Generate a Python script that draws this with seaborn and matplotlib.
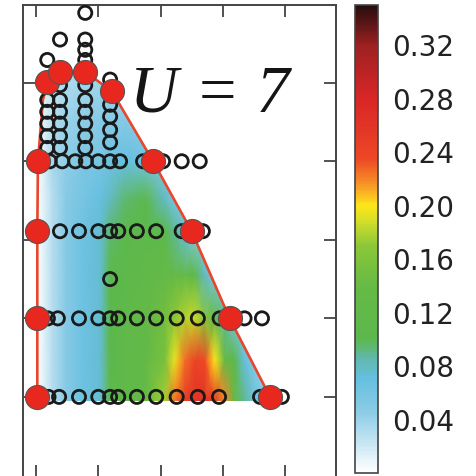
import numpy as np
import matplotlib
matplotlib.use("Agg")
import matplotlib.pyplot as plt
import seaborn as sns
from matplotlib.colors import LinearSegmentedColormap, Normalize
from matplotlib.patches import Polygon

# ---------------- data ----------------
# phase boundary (red line + red markers)
boundary_x = [0.02, 0.02, 0.02, 0.03, 0.11, 0.18, 0.385, 0.79, 1.22, 1.88, 2.50, 3.11, 3.76]
boundary_y = [0.00, 1.00, 2.11, 3.00, 3.78, 4.01, 4.14, 4.14, 3.89, 3.00, 2.11, 1.00, 0.00]
red_pts_x = [0.02, 0.02, 0.02, 0.03, 0.18, 0.385, 0.79, 1.22, 1.88, 2.50, 3.11, 3.76]
red_pts_y = [0.00, 1.00, 2.11, 3.00, 4.01, 4.14, 4.14, 3.89, 3.00, 2.11, 1.00, 0.00]

# open circles (sampled points), rows and columns
row0_x = [0.20, 0.37, 0.69, 1.00, 1.19, 1.32, 1.62, 1.93, 2.26, 2.60, 2.94, 3.60, 3.95]
row1_x = [0.19, 0.35, 0.69, 1.00, 1.19, 1.32, 1.62, 1.93, 2.26, 2.60, 2.95, 3.35, 3.63]
row15_x = [1.19]
row2_x = [0.385, 0.69, 1.00, 1.19, 1.32, 1.62, 1.93, 2.34, 2.68]
row3_x = [0.22, 0.42, 0.63, 0.80, 1.00, 1.19, 1.35, 1.72, 2.04, 2.34, 2.63]
col018_y = [4.29, 3.78, 3.63, 3.48, 3.32, 3.17]
col039_y = [4.55, 3.97, 3.78, 3.63, 3.48, 3.32, 3.17]
col079_y = [4.89, 4.55, 4.42, 4.29, 3.97, 3.78, 3.63, 3.48, 3.32, 3.17]
col119_y = [4.04, 3.72, 3.57, 3.40, 3.24]

# colour field sampled on a grid
field_x = [0.02, 0.26, 0.48, 0.74, 1.03, 1.19, 1.43, 1.75, 2.07, 2.23,
           2.39, 2.55, 2.71, 2.87, 3.03, 3.19, 3.35, 3.52, 3.68, 3.84]
field_y = [-0.05, 0.47, 1.00, 1.55, 2.11, 2.51, 3.00, 3.53, 4.15]
field_z = [
    [0.00, 0.03, 0.05, 0.065, 0.075, 0.11, 0.12, 0.13, 0.175, 0.225, 0.25, 0.26, 0.26, 0.255, 0.22, 0.14, 0.09, 0.065, 0.05, 0.04],
    [0.00, 0.03, 0.05, 0.065, 0.075, 0.105, 0.115, 0.125, 0.155, 0.195, 0.225, 0.24, 0.235, 0.20, 0.14, 0.10, 0.07, 0.05, 0.04, 0.04],
    [0.00, 0.03, 0.05, 0.065, 0.075, 0.10, 0.115, 0.125, 0.15, 0.17, 0.18, 0.185, 0.165, 0.13, 0.09, 0.06, 0.05, 0.04, 0.04, 0.04],
    [0.00, 0.03, 0.05, 0.065, 0.075, 0.10, 0.11, 0.12, 0.13, 0.135, 0.13, 0.11, 0.08, 0.06, 0.05, 0.04, 0.04, 0.04, 0.04, 0.04],
    [0.00, 0.03, 0.05, 0.065, 0.075, 0.095, 0.105, 0.11, 0.105, 0.09, 0.07, 0.05, 0.05, 0.04, 0.04, 0.04, 0.04, 0.04, 0.04, 0.04],
    [0.00, 0.03, 0.05, 0.06, 0.07, 0.08, 0.095, 0.10, 0.08, 0.06, 0.05, 0.05, 0.04, 0.04, 0.04, 0.04, 0.04, 0.04, 0.04, 0.04],
    [0.00, 0.035, 0.045, 0.055, 0.06, 0.065, 0.07, 0.065, 0.05, 0.05, 0.04, 0.04, 0.04, 0.04, 0.04, 0.04, 0.04, 0.04, 0.04, 0.04],
    [0.00, 0.03, 0.04, 0.045, 0.05, 0.05, 0.05, 0.045, 0.04, 0.04, 0.04, 0.04, 0.04, 0.04, 0.04, 0.04, 0.04, 0.04, 0.04, 0.04],
    [0.00, 0.02, 0.03, 0.035, 0.035, 0.035, 0.03, 0.03, 0.03, 0.03, 0.03, 0.03, 0.03, 0.03, 0.03, 0.03, 0.03, 0.03, 0.03, 0.03],
]

cbar_ticks = [0.04, 0.08, 0.12, 0.16, 0.20, 0.24, 0.28, 0.32]
vmin, vmax = 0.0, 0.35
label_text = "U = 7"

# colormap stops (value, colour)
cmap_stops = [
    (0.000, (1.00, 1.00, 1.00)),
    (0.020, (0.80, 0.91, 0.96)),
    (0.045, (0.55, 0.80, 0.90)),
    (0.070, (0.40, 0.75, 0.88)),
    (0.085, (0.38, 0.72, 0.68)),
    (0.100, (0.36, 0.72, 0.30)),
    (0.140, (0.40, 0.73, 0.27)),
    (0.170, (0.55, 0.78, 0.22)),
    (0.190, (0.85, 0.88, 0.15)),
    (0.200, (1.00, 0.90, 0.10)),
    (0.215, (0.97, 0.60, 0.15)),
    (0.235, (0.93, 0.28, 0.15)),
    (0.280, (0.85, 0.15, 0.15)),
    (0.320, (0.62, 0.13, 0.13)),
    (0.350, (0.15, 0.05, 0.05)),
]

# ---------------- plotting ----------------
sns.set_style("white")
plt.rcParams["font.family"] = ["DejaVu Sans"]

cmap = LinearSegmentedColormap.from_list(
    "phase", [((v - vmin) / (vmax - vmin), c) for v, c in cmap_stops])
norm = Normalize(vmin=vmin, vmax=vmax)

W = 476
fig = plt.figure(figsize=(4.76, 4.76), dpi=100)
ax = fig.add_axes([23 / W, 1 - 477 / W, (336 - 23) / W, (477 - 5) / W])
cax = fig.add_axes([355 / W, 1 - 473 / W, 23 / W, (473 - 5) / W])

# field
X, Y = np.meshgrid(field_x, field_y)
mesh = ax.pcolormesh(X, Y, np.array(field_z), shading="gouraud", cmap=cmap,
                     norm=norm, zorder=1)
poly_pts = [(boundary_x[0], -0.05)] + list(zip(boundary_x, boundary_y)) + [(boundary_x[-1], -0.05)]
clip = Polygon(poly_pts, closed=True, transform=ax.transData, facecolor="none", edgecolor="none")
ax.add_patch(clip)
mesh.set_clip_path(clip)

# boundary line
ax.plot(boundary_x, boundary_y, color="#e8472e", lw=1.9, zorder=2)

# open circles
ox = (row0_x + row1_x + row15_x + row2_x + row3_x
      + [0.18] * len(col018_y) + [0.385] * len(col039_y)
      + [0.79] * len(col079_y) + [1.19] * len(col119_y))
oy = ([0.0] * len(row0_x) + [1.0] * len(row1_x) + [1.5] * len(row15_x)
      + [2.11] * len(row2_x) + [3.0] * len(row3_x)
      + col018_y + col039_y + col079_y + col119_y)
sns.scatterplot(x=ox, y=oy, ax=ax, s=90, marker="o", facecolor="none",
                edgecolor="#1a1a1a", linewidth=2.0, zorder=3)

# red boundary markers
sns.scatterplot(x=red_pts_x, y=red_pts_y, ax=ax, s=300, marker="o",
                color="#e8281e", edgecolor="#555555", linewidth=0.8, zorder=4)

ax.text(1.51, 3.63, label_text, fontfamily="Liberation Serif", style="italic",
        fontsize=48, color="#151515", ha="left", va="baseline", zorder=5)

ax.set_xlim(-0.21, 4.82)
ax.set_ylim(-1.02, 4.99)
ax.set_xticks([0, 1, 2, 3, 4])
ax.set_yticks([0, 1, 2, 3, 4])
ax.tick_params(direction="in", length=8.5, width=1.2, color="#333333",
               top=True, right=True, bottom=True, left=True,
               labelbottom=False, labelleft=False)
for sp in ax.spines.values():
    sp.set_visible(True)
    sp.set_color("#444444")
    sp.set_linewidth(1.4)

cb = fig.colorbar(mesh, cax=cax)
cb.set_ticks(cbar_ticks)
cb.set_ticklabels([f"{t:.2f}" for t in cbar_ticks])
cb.ax.tick_params(direction="in", length=5, width=1.2, color="#333333",
                  labelsize=20, pad=10, labelcolor="#222222")
cb.outline.set_edgecolor("#444444")
cb.outline.set_linewidth(1.2)

fig.savefig("out.png", dpi=100)
